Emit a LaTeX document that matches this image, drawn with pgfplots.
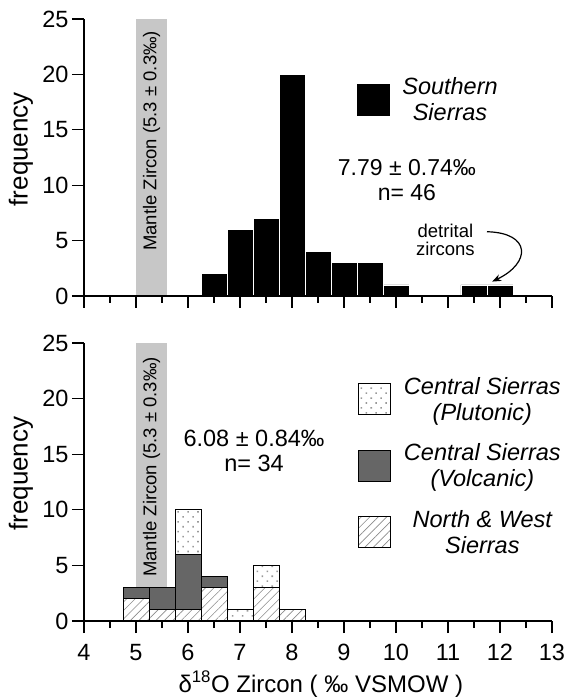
\documentclass[border=0pt]{standalone}
\usepackage{fontspec}
\setmainfont{Liberation Sans}
\usepackage{pgfplots}
\pgfplotsset{compat=1.18}
\usetikzlibrary{patterns.meta, arrows.meta}

\pgfplotsset{
  myaxis/.style={
    scale only axis, width=468pt, height=278pt,
    xmin=4, xmax=13, ymin=0, ymax=25,
    axis lines*=left,
    axis line style={line width=1.4pt},
    xtick={4,...,13}, minor xtick={4.5,5.5,...,12.5},
    ytick={0,5,...,25},
    tick align=outside,
    major tick length=12pt, minor tick length=7pt,
    tick style={black, line width=1.2pt},
    /pgf/number format/assume math mode=true,
    ticklabel style={font=\fontsize{23.5}{23.5}\selectfont},
    xticklabel style={yshift=-8pt},
    ylabel={frequency},
    every axis y label/.style={at={(axis description cs:-0.135,0.53)}, rotate=90, anchor=center, font=\fontsize{26}{26}\selectfont},
    clip=false,
    axis on top,
  },
}

\begin{document}
\begin{tikzpicture}
\useasboundingbox (0,0) rectangle (569pt,700pt);

% ---------- top panel ----------
\begin{axis}[myaxis, at={(84pt,404pt)}, anchor=south west, height=277pt,
  xticklabels={},
  legend style={at={(0.583,0.790)}, anchor=north west, draw=none, fill=none, inner sep=0pt,
    font=\itshape\fontsize{23.5}{26}\selectfont, cells={anchor=center, align=center},
    nodes={inner sep=0pt}, column sep=13pt, row sep=24pt},
]
\addplot[forget plot, fill=black!22, draw=none] coordinates {(5,0) (5,25) (5.6,25) (5.6,0)} -- cycle;
\addplot[ybar, bar width=0.5, bar shift=0pt, fill=black, draw=white, line width=0.8pt,
  legend image code/.code={\draw[fill=black, draw=black, line width=0.8pt] (0pt,-15.5pt) rectangle (31.5pt,15.5pt);}]
  coordinates {(6.5,2) (7,6) (7.5,7) (8,20) (8.5,4) (9,3) (9.5,3) (10,1) (11.5,1) (12,1)};
\addlegendentry{Southern\\Sierras}
\node[rotate=90, font=\fontsize{18.5}{18.5}\selectfont] at (axis cs:5.3,14) {Mantle Zircon (5.3 ± 0.3‰)};
\node[align=center, font=\fontsize{23}{25}\selectfont] at (axis cs:10.21,10.5) {7.79 ± 0.74‰\\n= 46};
\node[align=center, inner sep=1pt, font=\fontsize{18.5}{18.5}\selectfont] at (axis cs:10.95,5.05) {detrital\\zircons};
\draw[-{Stealth[length=9pt,width=7pt]}, line width=1.2pt] (axis cs:11.75,5.8) .. controls (axis cs:12.6,5.7) and (axis cs:12.6,3.0) .. (axis cs:11.85,1.3);
\end{axis}

% ---------- bottom panel: mantle band ----------
\begin{axis}[myaxis, at={(84pt,79pt)}, anchor=south west, hide axis]
\addplot[fill=black!22, draw=none] coordinates {(5,0) (5,25) (5.6,25) (5.6,0)} -- cycle;
\node[rotate=90, font=\fontsize{18.5}{18.5}\selectfont] at (axis cs:5.3,13.85) {Mantle Zircon (5.3 ± 0.3‰)};
\end{axis}

% ---------- bottom panel: stacked bars ----------
\begin{axis}[myaxis, at={(84pt,79pt)}, anchor=south west,
  ybar stacked, bar width=0.5,
  xlabel={δ\textsuperscript{18}O Zircon ( ‰ VSMOW )},
  every axis x label/.style={at={(axis description cs:0.506,-0.227)}, anchor=center, font=\fontsize{24}{24}\selectfont},
  reverse legend,
  legend style={at={(0.585,0.878)}, anchor=north west, draw=none, fill=none, inner sep=0pt,
    font=\itshape\fontsize{23.5}{26}\selectfont, cells={anchor=center, align=center},
    nodes={inner sep=0pt}, column sep=13pt, row sep=22pt},
]
\addplot[draw=black, line width=1pt, preaction={fill=white},
  pattern={Lines[angle=45,distance=6pt,line width=0.6pt]}, pattern color=black!45,
  legend image code/.code={\draw[draw=black, line width=1pt, preaction={fill=white}, pattern={Lines[angle=45,distance=6pt,line width=0.6pt]}, pattern color=black!45] (0pt,-15.5pt) rectangle (32pt,15.5pt);}]
  coordinates {(5,2) (5.5,1) (6,1) (6.5,3) (7,0) (7.5,3) (8,1)};
\addlegendentry{North \& West\\Sierras}
\addplot[draw=black, line width=1pt, fill=black!60,
  legend image code/.code={\draw[draw=black, line width=1pt, fill=black!60] (0pt,-15.5pt) rectangle (32pt,15.5pt);}]
  coordinates {(5,1) (5.5,2) (6,5) (6.5,1) (7,0) (7.5,0) (8,0)};
\addlegendentry{Central Sierras\\(Volcanic)}
\addplot[draw=black, line width=1pt, preaction={fill=white},
  pattern={Dots[angle=45,distance=7pt,radius=1.1pt]}, pattern color=black!40,
  legend image code/.code={\draw[draw=black, line width=1pt, preaction={fill=white}, pattern={Dots[angle=45,distance=7pt,radius=1.1pt]}, pattern color=black!40] (0pt,-15.5pt) rectangle (32pt,15.5pt);}]
  coordinates {(5,0) (5.5,0) (6,4) (6.5,0) (7,1) (7.5,2) (8,0)};
\addlegendentry{Central Sierras\\(Plutonic)}
\node[align=center, font=\fontsize{23.5}{25}\selectfont] at (axis cs:7.27,15.33) {6.08 ± 0.84‰\\n= 34};
\end{axis}
\end{tikzpicture}
\end{document}
